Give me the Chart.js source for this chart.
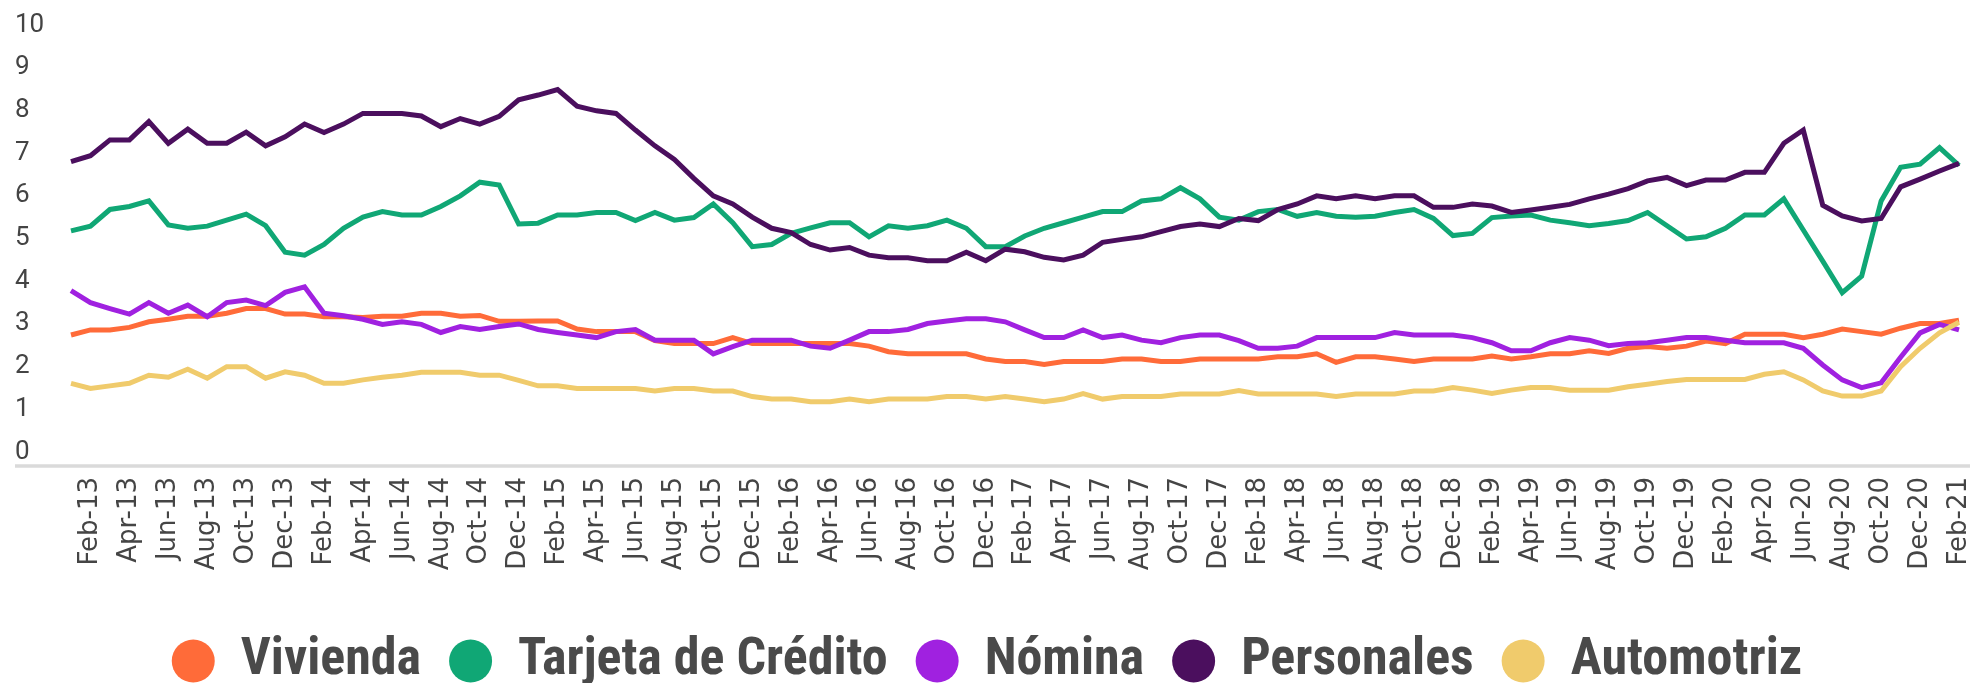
<!DOCTYPE html>
<html>
<head>
<meta charset="utf-8">
<script src="https://cdn.jsdelivr.net/npm/chart.js@4/dist/chart.umd.min.js"></script>
<style>
  html, body { margin: 0; padding: 0; background: #ffffff; overflow: hidden; }
  #wrap { position: relative; width: 1973px; height: 697px; }
</style>
</head>
<body>
<div id="wrap"><canvas id="c"></canvas></div>
<script>
const categories = [
  'Jan-13','Feb-13','Mar-13','Apr-13','May-13','Jun-13','Jul-13','Aug-13','Sep-13','Oct-13','Nov-13','Dec-13',
  'Jan-14','Feb-14','Mar-14','Apr-14','May-14','Jun-14','Jul-14','Aug-14','Sep-14','Oct-14','Nov-14','Dec-14',
  'Jan-15','Feb-15','Mar-15','Apr-15','May-15','Jun-15','Jul-15','Aug-15','Sep-15','Oct-15','Nov-15','Dec-15',
  'Jan-16','Feb-16','Mar-16','Apr-16','May-16','Jun-16','Jul-16','Aug-16','Sep-16','Oct-16','Nov-16','Dec-16',
  'Jan-17','Feb-17','Mar-17','Apr-17','May-17','Jun-17','Jul-17','Aug-17','Sep-17','Oct-17','Nov-17','Dec-17',
  'Jan-18','Feb-18','Mar-18','Apr-18','May-18','Jun-18','Jul-18','Aug-18','Sep-18','Oct-18','Nov-18','Dec-18',
  'Jan-19','Feb-19','Mar-19','Apr-19','May-19','Jun-19','Jul-19','Aug-19','Sep-19','Oct-19','Nov-19','Dec-19',
  'Jan-20','Feb-20','Mar-20','Apr-20','May-20','Jun-20','Jul-20','Aug-20','Sep-20','Oct-20','Nov-20','Dec-20',
  'Jan-21','Feb-21'
];

const vivienda = [
  2.74, 2.86, 2.86, 2.92, 3.05, 3.11, 3.18, 3.18, 3.25, 3.36, 3.36, 3.23, 3.23, 3.17, 3.17, 3.15, 3.18, 3.18, 3.25, 3.25, 3.18, 3.20, 3.06, 3.06,
  3.07, 3.07, 2.88, 2.82, 2.82, 2.82, 2.61, 2.54, 2.54, 2.54, 2.68, 2.54, 2.54, 2.54, 2.54, 2.54, 2.54, 2.48, 2.35, 2.30, 2.30, 2.30, 2.30, 2.18,
  2.12, 2.12, 2.05, 2.12, 2.12, 2.12, 2.18, 2.18, 2.12, 2.12, 2.18, 2.18, 2.18, 2.18, 2.23, 2.23, 2.30, 2.10, 2.23, 2.23, 2.18, 2.12, 2.18, 2.18, 2.18,
  2.25, 2.18, 2.23, 2.30, 2.30, 2.37, 2.31, 2.43, 2.47, 2.43, 2.48, 2.60, 2.54, 2.76, 2.76, 2.76, 2.68, 2.76, 2.88, 2.82, 2.76, 2.90, 3.01, 3.01, 3.09
];
const tarjeta = [
  5.18, 5.29, 5.68, 5.75, 5.88, 5.32, 5.24, 5.29, 5.43, 5.57, 5.30, 4.68, 4.61, 4.86, 5.24, 5.50, 5.63, 5.55, 5.55, 5.75, 6.00, 6.32, 6.25, 5.34,
  5.36, 5.55, 5.55, 5.61, 5.61, 5.42, 5.61, 5.43, 5.49, 5.81, 5.37, 4.81, 4.86, 5.12, 5.25, 5.37, 5.37, 5.04, 5.30, 5.24, 5.30, 5.43, 5.24, 4.81,
  4.81, 5.06, 5.24, 5.37, 5.50, 5.63, 5.63, 5.88, 5.93, 6.19, 5.93, 5.50, 5.43, 5.63, 5.68, 5.52, 5.61, 5.52, 5.50, 5.52, 5.61, 5.68, 5.47, 5.07, 5.12,
  5.49, 5.53, 5.55, 5.43, 5.37, 5.30, 5.35, 5.42, 5.61, 5.30, 4.99, 5.04, 5.24, 5.55, 5.55, 5.93, 5.20, 4.47, 3.73, 4.12, 5.88, 6.67, 6.74, 7.13, 6.71
];
const nomina = [
  3.78, 3.50, 3.36, 3.23, 3.50, 3.25, 3.44, 3.17, 3.50, 3.56, 3.43, 3.74, 3.87, 3.25, 3.19, 3.11, 2.99, 3.05, 2.99, 2.80, 2.94, 2.87, 2.94, 3.00,
  2.87, 2.80, 2.74, 2.68, 2.82, 2.87, 2.62, 2.62, 2.62, 2.30, 2.47, 2.62, 2.62, 2.62, 2.48, 2.43, 2.62, 2.82, 2.82, 2.87, 3.01, 3.07, 3.12, 3.12,
  3.05, 2.86, 2.68, 2.68, 2.86, 2.68, 2.74, 2.62, 2.56, 2.68, 2.74, 2.74, 2.61, 2.43, 2.43, 2.48, 2.68, 2.68, 2.68, 2.68, 2.80, 2.74, 2.74, 2.74, 2.68,
  2.56, 2.37, 2.37, 2.56, 2.68, 2.62, 2.49, 2.54, 2.56, 2.62, 2.68, 2.68, 2.62, 2.56, 2.56, 2.56, 2.43, 2.04, 1.69, 1.51, 1.62, 2.22, 2.79, 2.99, 2.86
];
const personales = [
  6.80, 6.94, 7.31, 7.31, 7.74, 7.23, 7.56, 7.23, 7.23, 7.49, 7.17, 7.38, 7.68, 7.48, 7.68, 7.93, 7.93, 7.93, 7.87, 7.62, 7.81, 7.68, 7.86, 8.25,
  8.36, 8.49, 8.10, 7.99, 7.93, 7.54, 7.17, 6.85, 6.41, 6.00, 5.81, 5.50, 5.24, 5.14, 4.86, 4.73, 4.79, 4.61, 4.55, 4.55, 4.48, 4.48, 4.68, 4.48,
  4.75, 4.69, 4.56, 4.50, 4.61, 4.91, 4.98, 5.04, 5.16, 5.28, 5.34, 5.28, 5.47, 5.42, 5.68, 5.81, 6.00, 5.93, 6.00, 5.93, 6.00, 6.00, 5.73, 5.73, 5.81,
  5.76, 5.61, 5.67, 5.73, 5.80, 5.93, 6.04, 6.17, 6.35, 6.43, 6.24, 6.37, 6.37, 6.55, 6.55, 7.23, 7.54, 5.78, 5.53, 5.41, 5.47, 6.21, 6.39, 6.58, 6.76
];
const automotriz = [
  1.61, 1.49, 1.55, 1.61, 1.80, 1.75, 1.94, 1.73, 2.00, 2.00, 1.73, 1.88, 1.80, 1.61, 1.61, 1.69, 1.75, 1.80, 1.87, 1.87, 1.87, 1.80, 1.80, 1.68,
  1.55, 1.55, 1.49, 1.49, 1.49, 1.49, 1.43, 1.49, 1.49, 1.43, 1.43, 1.30, 1.24, 1.24, 1.18, 1.18, 1.24, 1.18, 1.24, 1.24, 1.24, 1.30, 1.30, 1.24,
  1.30, 1.24, 1.18, 1.24, 1.37, 1.24, 1.30, 1.30, 1.30, 1.36, 1.36, 1.36, 1.44, 1.36, 1.36, 1.36, 1.36, 1.30, 1.36, 1.36, 1.36, 1.43, 1.43, 1.51, 1.45,
  1.37, 1.45, 1.51, 1.51, 1.45, 1.45, 1.45, 1.53, 1.59, 1.65, 1.70, 1.70, 1.70, 1.70, 1.82, 1.88, 1.69, 1.43, 1.31, 1.31, 1.43, 2.00, 2.43, 2.79, 3.04
];

const seriesNames = ['Vivienda', 'Tarjeta de Crédito', 'Nómina', 'Personales', 'Automotriz'];
const seriesColors = ['#FF6B39', '#10A775', '#A021E0', '#4B0F5E', '#F0CB6C'];
const seriesValues = [vivienda, tarjeta, nomina, personales, automotriz];
const yTicks = [0, 1, 2, 3, 4, 5, 6, 7, 8, 9, 10];
const Y_MIN = -0.35;
const Y_MAX = 10;

const baselinePlugin = {
  id: 'baseline',
  beforeDatasetsDraw(chart) {
    const ctx = chart.ctx;
    const y = chart.scales.y.getPixelForValue(Y_MIN) - 1;
    ctx.save();
    ctx.strokeStyle = '#dadada';
    ctx.lineWidth = 3.5;
    ctx.beginPath();
    ctx.moveTo(15, y);
    ctx.lineTo(chart.width - 3, y);
    ctx.stroke();
    ctx.restore();
  }
};

const datasets = seriesNames.map((name, i) => ({
  label: name,
  data: seriesValues[i],
  borderColor: seriesColors[i],
  backgroundColor: seriesColors[i],
  borderWidth: 5,
  pointRadius: 0,
  pointHoverRadius: 0,
  tension: 0,
  fill: false,
  order: seriesNames.length - i
}));

new Chart(document.getElementById('c'), {
  type: 'line',
  data: { labels: categories, datasets },
  plugins: [baselinePlugin],
  options: {
    responsive: true,
    maintainAspectRatio: false,
    animation: false,
    layout: { padding: { left: 15, right: 14, top: 25, bottom: 0 } },
    plugins: {
      tooltip: { enabled: false },
      legend: {
        position: 'bottom',
        align: 'center',
        labels: {
          usePointStyle: true,
          pointStyle: 'circle',
          pointStyleWidth: 43,
          boxHeight: 30.4,
          padding: 28,
          color: '#4a4a4a',
          font: { family: "'Liberation Sans Narrow', 'Roboto Condensed', Roboto, sans-serif", weight: 'bold', size: 52 },
          generateLabels(chart) {
            const items = Chart.defaults.plugins.legend.labels.generateLabels(chart);
            items.sort((a, b) => a.datasetIndex - b.datasetIndex);
            items.forEach(it => { it.lineWidth = 0; it.fillStyle = seriesColors[it.datasetIndex]; });
            return items;
          }
        }
      }
    },
    scales: {
      x: {
        type: 'category',
        grid: { display: false, drawTicks: false },
        border: { display: false },
        ticks: {
          autoSkip: false,
          maxRotation: 90,
          minRotation: 90,
          padding: 10,
          color: '#454545',
          font: { family: "'DejaVu Sans', sans-serif", size: 26 },
          callback(value, index) { return index % 2 === 1 ? categories[index] : ''; }
        },
        afterFit(scale) {
          scale.height = 140;
          scale.paddingLeft = 0;
          scale.paddingRight = 0;
        }
      },
      y: {
        min: Y_MIN,
        max: Y_MAX,
        grid: { display: false, drawTicks: false },
        border: { display: false },
        afterBuildTicks(scale) { scale.ticks = yTicks.map(v => ({ value: v })); },
        ticks: {
          crossAlign: 'far',
          padding: 8,
          color: '#444444',
          font: { family: "Roboto, sans-serif", size: 26 },
          callback(value) { return String(value); }
        },
        afterFit(scale) {
          scale.width = 56;
          scale.paddingTop = 0;
          scale.paddingBottom = 0;
        }
      }
    }
  }
});
</script>
</body>
</html>
